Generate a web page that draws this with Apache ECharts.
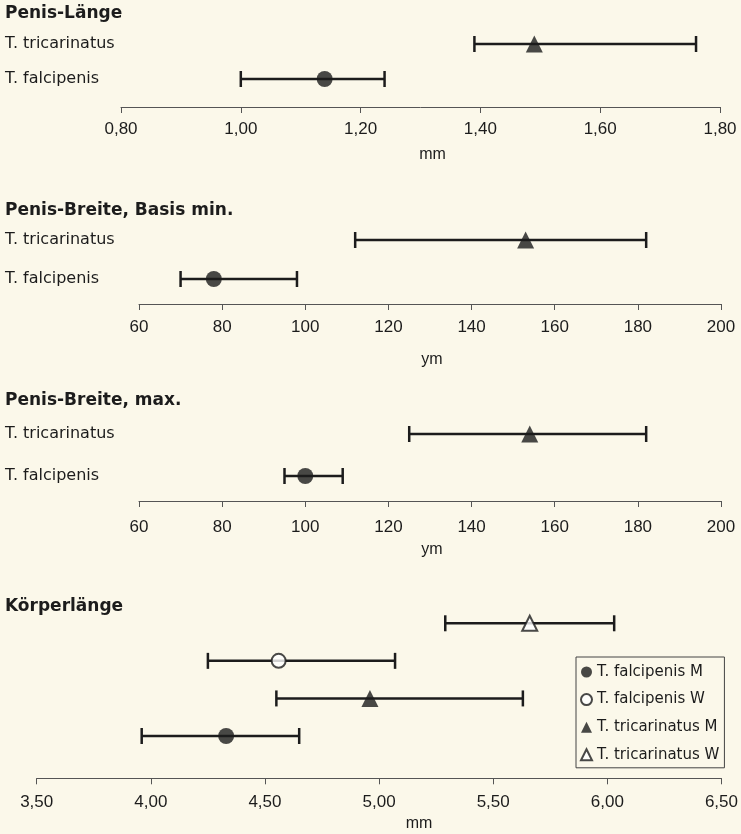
<!DOCTYPE html>
<html>
<head>
<meta charset="utf-8">
<script src="https://cdn.jsdelivr.net/npm/echarts@6/dist/echarts.min.js"></script>
<style>
html,body{margin:0;padding:0;background:#fbf8ea;}
#c{width:741px;height:834px;}
</style>
</head>
<body>
<div id="c"></div>
<script>
// ---- data ----
const titles = ['Penis-Länge', 'Penis-Breite, Basis min.', 'Penis-Breite, max.', 'Körperlänge'];
const units = ['mm', 'ym', 'ym', 'mm'];
const speciesCats = ['T. falcipenis', 'T. tricarinatus'];
const bodyCats = ['T. falcipenis M', 'T. tricarinatus M', 'T. falcipenis W', 'T. tricarinatus W'];
const legendOrder = ['T. falcipenis M', 'T. falcipenis W', 'T. tricarinatus M', 'T. tricarinatus W'];

// [min, mean, max] per category (order as speciesCats)
const penisLength = [[1.00, 1.14, 1.24], [1.39, 1.49, 1.76]];
const penisWidthBase = [[70, 78, 98], [112, 153, 182]];
const penisWidthMax = [[95, 100, 109], [125, 154, 182]];
// order as bodyCats
const bodyLength = [[3.96, 4.33, 4.65], [4.55, 4.96, 5.63], [4.25, 4.56, 5.07], [5.29, 5.66, 6.03]];

const axisRanges = [[0.8, 1.8, 0.2], [60, 200, 20], [60, 200, 20], [3.5, 6.5, 0.5]];

// ---- layout ----
const FONT = 'Liberation Sans';
const WFONT = 'DejaVu Sans';
const INK = '#1c1c1c';
const grids = [
  {left: 121, right: 21, top: 26.5, height: 70},
  {left: 139, right: 20, top: 220.5, height: 78},
  {left: 139, right: 20, top: 413, height: 84},
  {left: 36.7, right: 14.3, top: 604.5, height: 150.3}
];
const axisOffsets = [10.5, 5.5, 4, 23.5];
const labelMargins = [14, 15, 18, 16];
const nameGaps = [40, 48, 41, 37];
const nameShift = [12, 2, 2, 40];
const titleTops = [5, 202, 392, 598];

function fmt(i) {
  return function (v) {
    return i === 0 || i === 3 ? v.toFixed(2).replace('.', ',') : String(v);
  };
}

const xAxes = axisRanges.map((r, i) => ({
  type: 'value', gridIndex: i, min: r[0], max: r[1], interval: r[2],
  position: 'bottom', offset: axisOffsets[i],
  axisLine: {show: true, lineStyle: {color: '#555', width: 1}},
  axisTick: {show: true, length: 6, lineStyle: {color: '#555', width: 1}},
  splitLine: {show: false},
  axisLabel: {formatter: fmt(i), color: INK, fontSize: 17, fontFamily: FONT, margin: labelMargins[i]},
  name: units[i], nameLocation: 'middle', nameGap: nameGaps[i],
  nameTextStyle: {color: INK, fontSize: 16, fontFamily: FONT, padding: [0, 0, 0, 2 * nameShift[i]]}
}));

const yAxes = grids.map((g, i) => ({
  type: 'category', gridIndex: i,
  data: i === 3 ? bodyCats : speciesCats,
  axisLine: {show: false}, axisTick: {show: false}, splitLine: {show: false},
  axisLabel: i === 3 ? {show: false} : {
    show: true, align: 'left', margin: g.left - 5,
    color: INK, fontSize: 16, fontFamily: WFONT
  }
}));

function errorSeries(idx, arr) {
  return {
    type: 'custom', xAxisIndex: idx, yAxisIndex: idx, silent: true, z: 2,
    data: arr.map((d, k) => [d[0], d[2], k]),
    renderItem: function (params, api) {
      const a = api.coord([api.value(0), api.value(2)]);
      const b = api.coord([api.value(1), api.value(2)]);
      const h = 8;
      const st = {stroke: INK, lineWidth: 2.5};
      return {type: 'group', children: [
        {type: 'line', shape: {x1: a[0], y1: a[1], x2: b[0], y2: b[1]}, style: st},
        {type: 'line', shape: {x1: a[0], y1: a[1] - h, x2: a[0], y2: a[1] + h}, style: st},
        {type: 'line', shape: {x1: b[0], y1: b[1] - h, x2: b[0], y2: b[1] + h}, style: st}
      ]};
    }
  };
}

function markSeries(idx, name, value, cat, symbol, hollow, size) {
  return {
    type: 'scatter', name: name, xAxisIndex: idx, yAxisIndex: idx, z: 5,
    symbol: symbol, symbolSize: size,
    itemStyle: hollow ? {color: '#fff', borderColor: INK, borderWidth: 2} : {color: INK},
    data: [[value, cat]]
  };
}

const series = [];
[penisLength, penisWidthBase, penisWidthMax].forEach((arr, i) => {
  series.push(errorSeries(i, arr));
  series.push(markSeries(i, 'f' + i, arr[0][1], speciesCats[0], 'circle', false, 16));
  series.push(markSeries(i, 't' + i, arr[1][1], speciesCats[1], 'triangle', false, 17));
});
series.push(errorSeries(3, bodyLength));
const bodySym = [['circle', false, 16], ['triangle', false, 17], ['circle', true, 14], ['triangle', true, 15]];
bodyCats.forEach((c, k) => {
  series.push(markSeries(3, c, bodyLength[k][1], c, bodySym[k][0], bodySym[k][1], bodySym[k][2]));
});

const chart = echarts.init(document.getElementById('c'), null, {renderer: 'canvas'});
chart.setOption({
  backgroundColor: '#fbf8ea',
  animation: false,
  title: titles.map((t, i) => ({
    text: t, left: 5, top: titleTops[i], padding: 0,
    textStyle: {color: INK, fontSize: 17, fontWeight: 'bold', fontFamily: WFONT}
  })),
  legend: {
    data: legendOrder,
    orient: 'vertical', left: 576, top: 657,
    padding: [6, 5, 4, 4], itemGap: 9.6, itemWidth: 11, itemHeight: 11,
    borderColor: '#444', borderWidth: 1, backgroundColor: '#fbf8ea',
    textStyle: {color: INK, fontSize: 15, fontFamily: WFONT, lineHeight: 18}
  },
  grid: grids.map(g => Object.assign({containLabel: false}, g)),
  xAxis: xAxes,
  yAxis: yAxes,
  series: series
});
</script>
</body>
</html>
